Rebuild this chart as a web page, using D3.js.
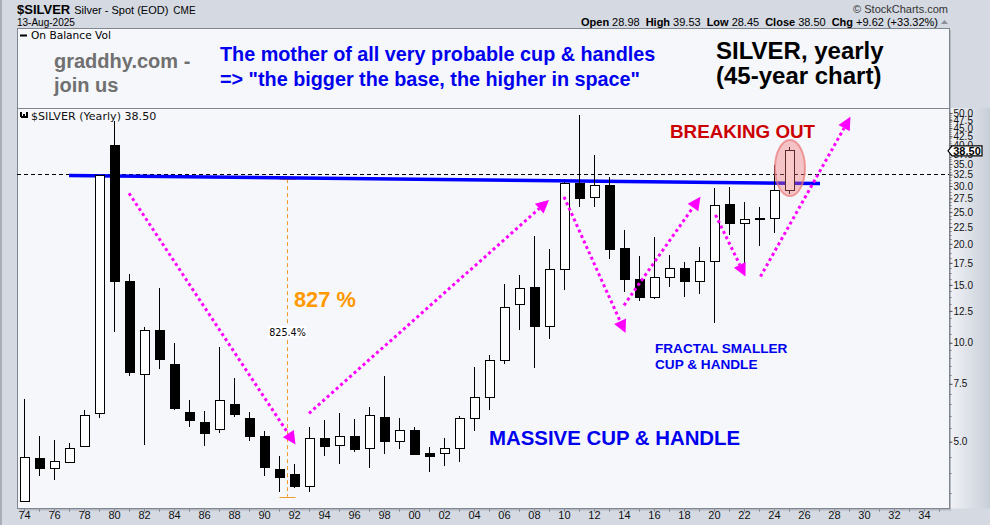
<!DOCTYPE html>
<html>
<head>
<meta charset="utf-8">
<script src="https://cdn.jsdelivr.net/npm/d3@7"></script>
<style>
  body { margin: 0; background: #d4d9e2; }
  svg { display: block; font-family: "Liberation Sans", Arial, sans-serif; }
</style>
</head>
<body>
<svg id="chart" width="990" height="525"></svg>
<script>
// ---- Yearly silver candles (spot, USD/oz) ----
const years = [1974,1975,1976,1977,1978,1979,1980,1981,1982,1983,1984,1985,1986,1987,1988,1989,
  1990,1991,1992,1993,1994,1995,1996,1997,1998,1999,2000,2001,2002,2003,2004,2005,2006,2007,
  2008,2009,2010,2011,2012,2013,2014,2015,2016,2017,2018,2019,2020,2021,2022,2023,2024,2025];
const opens = [3.28,4.43,4.15,4.33,4.84,6.07,39.7,15.4,8.03,10.9,8.57,6.12,5.71,5.43,6.48,5.87,
  5.18,4.11,3.97,3.66,5.10,4.87,5.17,4.75,5.94,4.99,5.39,4.60,4.59,4.75,5.90,6.79,8.80,13.1,
  14.76,11.2,16.75,30.6,27.7,30.1,19.3,15.6,13.77,15.83,16.82,15.35,17.7,26.4,23.0,23.9,23.8,28.98];
const highs = [6.76,5.21,5.07,4.97,6.25,32.4,47.4,16.2,11.18,14.72,10.0,6.71,6.21,9.72,7.79,6.17,
  5.37,4.53,4.28,5.55,5.83,6.12,5.87,6.39,7.90,5.90,5.55,4.82,5.13,6.0,8.41,9.19,15.1,16.1,
  21.1,19.3,30.8,49.3,37.2,32.0,22.05,18.4,21.0,18.5,17.6,19.6,29.6,29.8,26.8,25.8,34.7,39.53];
const lows = [3.28,3.92,3.81,4.31,4.80,5.90,10.8,7.94,4.87,8.32,6.22,5.53,4.84,5.31,5.93,5.01,
  3.92,3.51,3.62,3.51,4.51,4.27,4.64,4.15,4.58,4.76,4.55,4.03,4.21,4.33,5.40,6.25,8.63,10.97,
  8.37,10.23,14.5,25.8,25.8,18.0,14.3,13.44,13.6,14.76,13.77,14.1,11.5,21.2,17.4,19.75,21.6,28.45];
const closes = [4.46,4.15,4.34,4.75,5.99,32.2,15.35,8.12,10.87,8.92,6.31,5.80,5.31,6.65,6.03,5.19,
  4.18,3.89,3.66,5.10,4.84,5.17,4.74,5.99,5.01,5.39,4.58,4.52,4.75,5.90,6.79,8.80,12.84,14.66,
  11.2,16.75,30.6,27.45,30.1,19.2,15.6,13.77,15.83,16.82,15.35,17.7,26.1,23.0,23.75,23.8,28.98,38.50];

// ---- Axis tick labels ----
const yTickLabels = ["5.0","7.5","10.0","12.5","15.0","17.5","20.0","22.5","25.0","27.5",
  "30.0","32.5","35.0","37.5","40.0","42.5","45.0","47.5","50.0"];
const xTickYears = [1974,1976,1978,1980,1982,1984,1986,1988,1990,1992,1994,1996,1998,2000,
  2002,2004,2006,2008,2010,2012,2014,2016,2018,2020,2022,2024,2026,2028,2030,2032,2034];

// ---- Drawn studies ----
const resistance = [[1977.0, 32.3], [2027.07, 30.5]];   // long-term rim line
const hLineValue = 32.6;                                 // horizontal dashed level
const measureYear = 1991.55, measureLow = 3.40, measurePct = 825.4;
const measureHigh = measureLow * (1 + measurePct / 100);
const arrows = [
  [[1981.0, 28.5], [1992.1, 4.9]],
  [[1993.0, 6.1], [2009.0, 27.2]],
  [[2010.0, 27.8], [2014.1, 10.7]],
  [[2014.0, 13.0], [2019.1, 27.8]],
  [[2020.1, 24.5], [2022.1, 15.9]],
  [[2023.1, 15.9], [2029.1, 48.7]]
];
const lastYear = 2025, lastClose = 38.50;

// ---- Layout ----
const W = 990, H = 525;
const L = 17, R = 949, topPanel = 28, mainTop = 108, mainBottom = 508.5;
const VERDANA = "'DejaVu Sans', Verdana, sans-serif";

const svg = d3.select("#chart");
const x = d3.scaleLinear().domain([1973.53, 2035.67]).range([L, R]);
const y = d3.scaleLog().domain([3.13, 51.8]).range([mainBottom, mainTop]);

const defs = svg.append("defs");
const grad = defs.append("linearGradient").attr("id", "axisGrad").attr("x1", 0).attr("x2", 1);
grad.append("stop").attr("offset", 0).attr("stop-color", "#f0f2f6");
grad.append("stop").attr("offset", 1).attr("stop-color", "#c8ced8");
const clip = defs.append("clipPath").attr("id", "plotClip");
clip.append("rect").attr("x", L).attr("y", mainTop).attr("width", R - L).attr("height", mainBottom - mainTop);

// background frame
svg.append("rect").attr("width", W).attr("height", H).attr("fill", "#d4d9e2");
svg.append("rect").attr("x", 0).attr("y", 0).attr("width", 2).attr("height", H).attr("fill", "#a9aeb8");
svg.append("rect").attr("x", R + 1).attr("y", mainTop).attr("width", W - R - 1).attr("height", mainBottom - mainTop)
  .attr("fill", "url(#axisGrad)");

// panel shadows + panels
svg.append("rect").attr("x", L + 2).attr("y", topPanel + 2).attr("width", R - L).attr("height", mainBottom - topPanel)
  .attr("fill", "#b4b9c3");
svg.append("rect").attr("x", L + 0.5).attr("y", topPanel + 0.5).attr("width", R - L).attr("height", mainTop - topPanel)
  .attr("fill", "#f5f7fb").attr("stroke", "#80868f");
svg.append("rect").attr("x", L + 0.5).attr("y", mainTop + 0.5).attr("width", R - L).attr("height", mainBottom - mainTop - 0.5)
  .attr("fill", "#f5f7fb").attr("stroke", "#80868f");

// ---- Header ----
const hdr = svg.append("text").attr("x", 17).attr("y", 14).attr("fill", "#000");
hdr.append("tspan").attr("font-weight", "bold").attr("font-size", 13).text("$SILVER");
hdr.append("tspan").attr("font-size", 11).attr("dx", 4).text("Silver - Spot (EOD)");
hdr.append("tspan").attr("font-size", 10).attr("dx", 5).text("CME");
svg.append("text").attr("x", 17).attr("y", 26).attr("font-size", 10).text("13-Aug-2025");
svg.append("text").attr("x", 948).attr("y", 13).attr("text-anchor", "end").attr("font-size", 11)
  .attr("fill", "#333").text("© StockCharts.com");

const ohlc = svg.append("text").attr("x", 938).attr("y", 26).attr("text-anchor", "end").attr("font-size", 11);
[["Open", "28.98"], ["High", "39.53"], ["Low", "28.45"], ["Close", "38.50"], ["Chg", "+9.62 (+33.32%)"]]
  .forEach(([k, v], i) => {
    ohlc.append("tspan").attr("font-weight", "bold").attr("dx", i ? 6 : 0).text(k);
    ohlc.append("tspan").attr("dx", 3).text(v);
  });
svg.append("path").attr("d", "M941,24 L944.5,20 L948,24 Z").attr("fill", "#8a9099");

// ---- Upper panel (On Balance Vol) ----
svg.append("line").attr("x1", 20).attr("x2", 27).attr("y1", 35.5).attr("y2", 35.5)
  .attr("stroke", "#000").attr("stroke-width", 2);
svg.append("text").attr("x", 31).attr("y", 39).style("font-family", VERDANA).attr("font-size", 10.6)
  .text("On Balance Vol");
svg.append("text").attr("x", 54).attr("y", 68).attr("font-size", 20).attr("font-weight", "bold")
  .attr("fill", "#707070").text("graddhy.com -");
svg.append("text").attr("x", 54).attr("y", 92).attr("font-size", 20).attr("font-weight", "bold")
  .attr("fill", "#707070").text("join us");
svg.append("text").attr("x", 220).attr("y", 61).attr("font-size", 19.8).attr("font-weight", "bold")
  .attr("fill", "#0000ee").text("The mother of all very probable cup & handles");
svg.append("text").attr("x", 220).attr("y", 86).attr("font-size", 19.8).attr("font-weight", "bold")
  .attr("fill", "#0000ee").text("=> \"the bigger the base, the higher in space\"");
svg.append("text").attr("x", 716).attr("y", 58.5).attr("font-size", 24).attr("font-weight", "bold")
  .attr("fill", "#000").text("SILVER, yearly");
svg.append("text").attr("x", 716).attr("y", 84).attr("font-size", 24).attr("font-weight", "bold")
  .attr("fill", "#000").text("(45-year chart)");

// ---- Main panel ----
const plot = svg.append("g").attr("clip-path", "url(#plotClip)");

// horizontal dashed level
plot.append("line").attr("x1", L).attr("x2", R).attr("y1", Math.round(y(hLineValue)) + 0.5)
  .attr("y2", Math.round(y(hLineValue)) + 0.5).attr("stroke", "#000").attr("stroke-dasharray", "4,3");

// percentage measure
const mx = Math.round(x(measureYear)) + 0.5;
plot.append("line").attr("x1", mx).attr("x2", mx).attr("y1", y(measureHigh)).attr("y2", y(measureLow))
  .attr("stroke", "#ee9a2e").attr("stroke-dasharray", "4,3");
[measureHigh, measureLow].forEach(v => {
  plot.append("line").attr("x1", mx - 8).attr("x2", mx + 8)
    .attr("y1", Math.round(y(v)) + 0.5).attr("y2", Math.round(y(v)) + 0.5).attr("stroke", "#ee9a2e");
});

// resistance line
plot.append("line")
  .attr("x1", x(resistance[0][0])).attr("y1", y(resistance[0][1]))
  .attr("x2", x(resistance[1][0])).attr("y2", y(resistance[1][1]))
  .attr("stroke", "#0000ff").attr("stroke-width", 3.5);

// candles
const candles = years.map((yr, i) => ({ yr, o: opens[i], h: highs[i], l: lows[i], c: closes[i] }));
const cg = plot.append("g").attr("shape-rendering", "crispEdges");
const cs = cg.selectAll("g.candle").data(candles).join("g").attr("class", "candle");
cs.append("line")
  .attr("x1", d => Math.round(x(d.yr)) + 0.5).attr("x2", d => Math.round(x(d.yr)) + 0.5)
  .attr("y1", d => y(d.h)).attr("y2", d => y(d.l)).attr("stroke", "#000");
cs.append("rect")
  .attr("x", d => Math.round(x(d.yr)) - 4)
  .attr("width", 9)
  .attr("y", d => y(Math.max(d.o, d.c)))
  .attr("height", d => Math.max(1, y(Math.min(d.o, d.c)) - y(Math.max(d.o, d.c))))
  .attr("fill", d => d.c >= d.o ? "#ffffff" : "#000000")
  .attr("stroke", "#000");

// highlight of the latest candle
const last = candles.find(d => d.yr === lastYear);
plot.append("ellipse").attr("cx", x(last.yr) + 1).attr("cy", (y(last.h) + y(last.l)) / 2 - 2)
  .attr("rx", 15).attr("ry", 28)
  .attr("fill", "rgba(240,110,110,0.38)").attr("stroke", "rgba(235,120,120,0.7)").attr("stroke-width", 2);

// dotted arrows
arrows.forEach(([p0, p1]) => {
  const x0 = x(p0[0]), y0 = y(p0[1]), x1 = x(p1[0]), y1 = y(p1[1]);
  const a = Math.atan2(y1 - y0, x1 - x0), len = 13, hw = 6.5;
  const bx = x1 - len * Math.cos(a), by = y1 - len * Math.sin(a);
  plot.append("line").attr("x1", x0).attr("y1", y0).attr("x2", bx).attr("y2", by)
    .attr("stroke", "#ff00ff").attr("stroke-width", 3).attr("stroke-dasharray", "3,3");
  plot.append("path")
    .attr("d", `M${x1},${y1} L${bx - hw * Math.sin(a)},${by + hw * Math.cos(a)} L${bx + hw * Math.sin(a)},${by - hw * Math.cos(a)} Z`)
    .attr("fill", "#ff00ff");
});

// measure label
const mLab = `${measurePct.toFixed(1)}%`;
plot.append("rect").attr("x", mx - 19).attr("y", 326).attr("width", 38).attr("height", 12).attr("fill", "#fff");
plot.append("text").attr("x", mx).attr("y", 335.5).attr("text-anchor", "middle")
  .style("font-family", VERDANA).attr("font-size", 9.6).text(mLab);

// annotations
svg.append("text").attr("x", 294).attr("y", 306.5).attr("font-size", 21.8).attr("font-weight", "bold")
  .attr("fill", "#ff9900").text("827 %");
svg.append("text").attr("x", 670).attr("y", 138).attr("font-size", 18.8).attr("font-weight", "bold")
  .attr("fill", "#cc0000").text("BREAKING OUT");
svg.append("text").attr("x", 655).attr("y", 353).attr("font-size", 13.6).attr("font-weight", "bold")
  .attr("fill", "#0000ee").text("FRACTAL SMALLER");
svg.append("text").attr("x", 655).attr("y", 369).attr("font-size", 13.6).attr("font-weight", "bold")
  .attr("fill", "#0000ee").text("CUP & HANDLE");
svg.append("text").attr("x", 489).attr("y", 444.5).attr("font-size", 20.4).attr("font-weight", "bold")
  .attr("fill", "#0000ee").text("MASSIVE CUP & HANDLE");

// series legend inside the plot
const icon = svg.append("g").attr("fill", "#000").attr("shape-rendering", "crispEdges");
[[20, 112, 5], [23, 114, 4], [26, 112, 6]].forEach(([ix, iy, ih]) => {
  icon.append("rect").attr("x", ix).attr("y", iy).attr("width", 2).attr("height", ih);
});
icon.append("rect").attr("x", 21).attr("y", 116).attr("width", 7).attr("height", 2);
svg.append("text").attr("x", 31).attr("y", 119.5).style("font-family", VERDANA).attr("font-size", 11.1)
  .attr("fill", "#111").text(`$SILVER (Yearly) ${lastClose.toFixed(2)}`);

// ---- Right price axis ----
const yTicks = yTickLabels.map(Number);
const minorTicks = d3.range(3.5, 10, 0.5).concat(d3.range(10, 50.01, 0.625));
const yAxisG = svg.append("g").attr("transform", `translate(${R + 0.5},0)`);
yAxisG.selectAll("line.minor").data(minorTicks).join("line").attr("class", "minor")
  .attr("x1", 0).attr("x2", 2).attr("y1", d => Math.round(y(d)) + 0.5).attr("y2", d => Math.round(y(d)) + 0.5)
  .attr("stroke", "#777");
const yAxis = d3.axisRight(y).tickValues(yTicks).tickSize(3).tickPadding(1)
  .tickFormat((d, i) => yTickLabels[i]);
yAxisG.call(yAxis);
yAxisG.select(".domain").remove();
yAxisG.selectAll(".tick line").attr("stroke", "#555");
yAxisG.selectAll(".tick text").style("font-family", "'Liberation Sans', Arial, sans-serif")
  .attr("font-size", 10).attr("fill", "#111");

// last price tag
const ty = y(lastClose);
svg.append("path")
  .attr("d", `M${R - 1},${ty + 0.5} L${R + 3},${ty - 4.5} L${R + 33},${ty - 4.5} L${R + 33},${ty + 5.5} L${R + 3},${ty + 5.5} Z`)
  .attr("fill", "#fff").attr("stroke", "#000").attr("stroke-width", 1.2);
svg.append("text").attr("x", R + 18).attr("y", ty + 4.5).attr("text-anchor", "middle")
  .attr("font-size", 11).attr("font-weight", "bold").text(lastClose.toFixed(2));

// ---- Bottom year axis ----
const xAxisG = svg.append("g").attr("transform", `translate(0,${mainBottom})`);
xAxisG.selectAll("line.minor").data(d3.range(1974, 2036)).join("line").attr("class", "minor")
  .attr("x1", d => Math.round(x(d)) + 0.5).attr("x2", d => Math.round(x(d)) + 0.5)
  .attr("y1", 1).attr("y2", 3).attr("stroke", "#777");
const xAxis = d3.axisBottom(x).tickValues(xTickYears).tickSize(0).tickPadding(3)
  .tickFormat(d => String(d % 100).padStart(2, "0"));
xAxisG.call(xAxis);
xAxisG.select(".domain").remove();
xAxisG.selectAll(".tick text").style("font-family", "'Liberation Sans', Arial, sans-serif")
  .attr("font-size", 11).attr("fill", "#111");
</script>
</body>
</html>
